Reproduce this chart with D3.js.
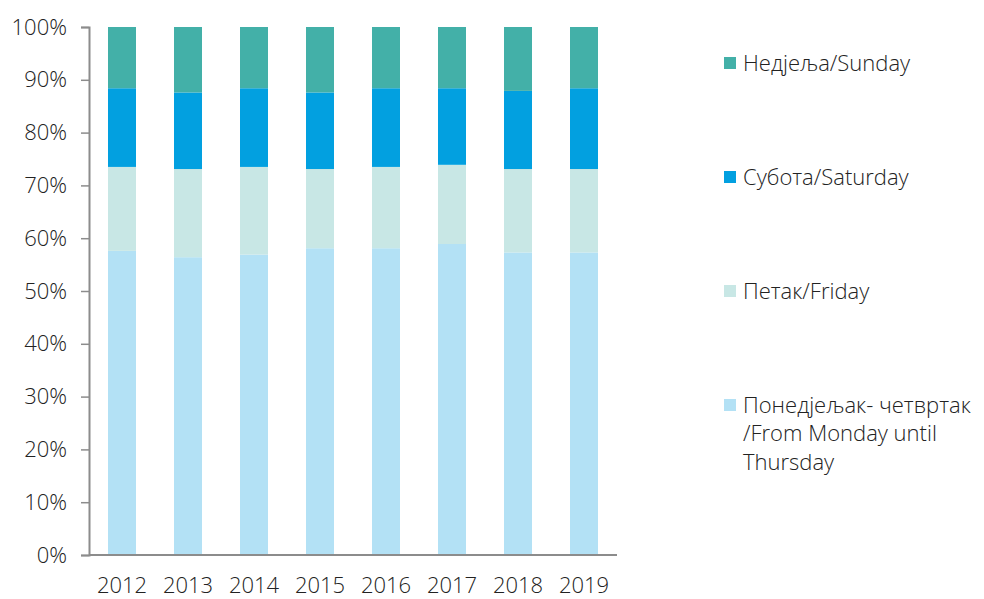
<!DOCTYPE html>
<html>
<head>
<meta charset="utf-8">
<script src="https://cdn.jsdelivr.net/npm/d3@7"></script>
<style>
    body { margin: 0; background: #fff; }
    svg text { font-family: "Open Sans", "Noto Sans", sans-serif; font-weight: 300; fill: #222; }
</style>
</head>
<body>
<div id="chart"></div>
<script>
// Shares of visits by day of week, 2012-2019 (stacked to 100%)

const years = ['2012', '2013', '2014', '2015', '2016', '2017', '2018', '2019'];
const monThu = [57.6, 56.4, 56.9, 58.1, 58.1, 58.9, 57.3, 57.3];
const friday = [15.9, 16.7, 16.6, 15.0, 15.4, 15.0, 15.8, 15.8];
const saturday = [14.9, 14.5, 14.9, 14.5, 14.9, 14.5, 14.8, 15.3];
const sunday = [11.6, 12.4, 11.6, 12.4, 11.6, 11.6, 12.1, 11.6];

const seriesKeys = ['monThu', 'friday', 'saturday', 'sunday'];
const seriesLabels = {
    sunday: ['Недјеља/Sunday'],
    saturday: ['Субота/Saturday'],
    friday: ['Петак/Friday'],
    monThu: ['Понедјељак- четвртак', '/From Monday until', 'Thursday']
};
const colors = {
    monThu: '#b3e1f5',
    friday: '#c8e7e5',
    saturday: '#02a0e0',
    sunday: '#43b0a8'
};
const yTicks = [0, 10, 20, 30, 40, 50, 60, 70, 80, 90, 100];

// Configuration
const config = {
    width: 984,
    height: 599,
    left: 89,
    right: 617,
    top: 27,
    bottom: 555,
    fontSize: 22
};

const table = years.map((year, i) => ({
    year,
    monThu: monThu[i],
    friday: friday[i],
    saturday: saturday[i],
    sunday: sunday[i]
}));

const svg = d3.select('#chart')
    .append('svg')
    .attr('width', config.width)
    .attr('height', config.height);

const x = d3.scaleBand()
    .domain(years)
    .range([config.left, config.right])
    .paddingInner(0.576)
    .paddingOuter(0.288);

const y = d3.scaleLinear()
    .domain([0, 100])
    .range([config.bottom, config.top]);

const stack = d3.stack().keys(seriesKeys);
const stacked = stack(table);

// Bars
svg.append('g')
    .selectAll('g')
    .data(stacked)
    .enter().append('g')
    .attr('fill', d => colors[d.key])
    .selectAll('rect')
    .data(d => d)
    .enter().append('rect')
    .attr('x', d => x(d.data.year))
    .attr('y', d => y(d[1]))
    .attr('width', x.bandwidth())
    .attr('height', d => y(d[0]) - y(d[1]));

// Y axis
const yAxis = svg.append('g')
    .attr('transform', `translate(${config.left},0)`)
    .call(d3.axisLeft(y).tickValues(yTicks).tickFormat(d => d + '%').tickSize(8).tickPadding(14));

// X axis
const xAxis = svg.append('g')
    .attr('transform', `translate(0,${config.bottom})`)
    .call(d3.axisBottom(x).tickSize(0).tickPadding(22));

[yAxis, xAxis].forEach(ax => {
    ax.select('.domain').attr('stroke', '#8c8c8c').attr('stroke-width', 2);
    ax.selectAll('.tick line').attr('stroke', '#8c8c8c').attr('stroke-width', 1.5);
    ax.selectAll('text')
        .attr('font-size', config.fontSize)
        .style('font-family', '"Open Sans", "Noto Sans", sans-serif')
        .style('font-weight', 300)
        .attr('fill', '#222');
});
xAxis.select('.domain').attr('d', `M${config.left},0H${config.right}`);

// Legend
const legendOrder = ['sunday', 'saturday', 'friday', 'monThu'];
const legend = svg.append('g')
    .selectAll('g')
    .data(legendOrder)
    .enter().append('g')
    .attr('transform', (d, i) => `translate(724,${63 + i * 114})`);

legend.append('rect')
    .attr('x', 0)
    .attr('y', -6)
    .attr('width', 12)
    .attr('height', 12)
    .attr('fill', d => colors[d]);

legend.append('text')
    .attr('x', 19)
    .attr('y', 0)
    .attr('font-size', config.fontSize)
    .each(function(d) {
        const t = d3.select(this);
        seriesLabels[d].forEach((line, i) => {
            t.append('tspan')
                .attr('x', 19)
                .attr('dy', i === 0 ? '0.35em' : 28.5)
                .text(line);
        });
    });
</script>
</body>
</html>
